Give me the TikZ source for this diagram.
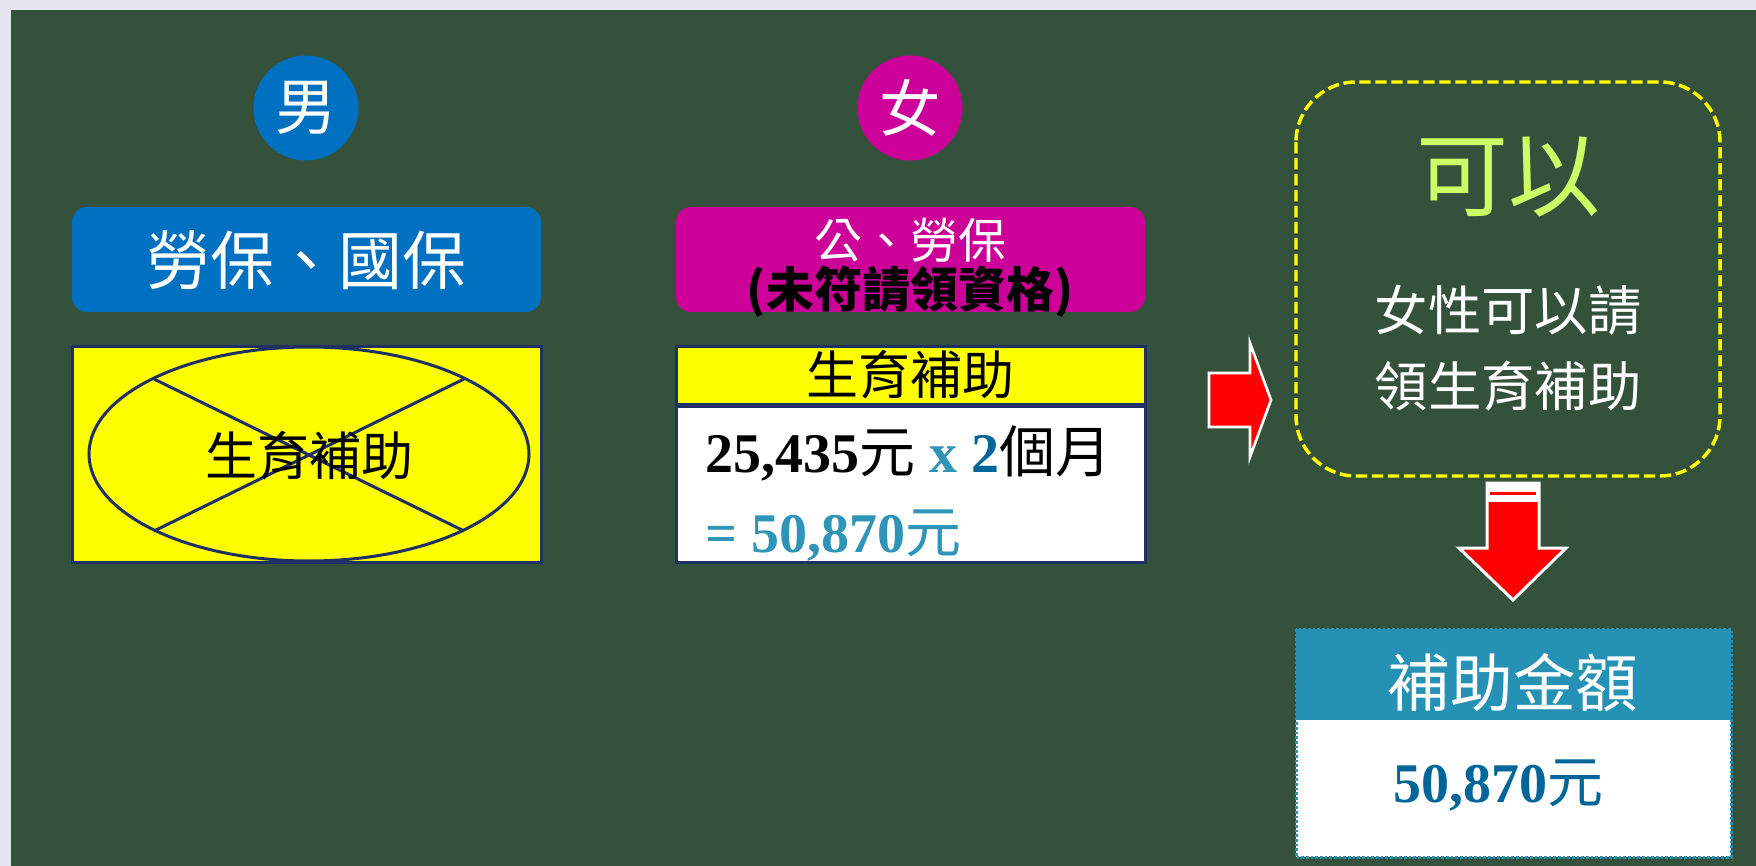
\documentclass[tikz,border=0pt]{standalone}
\usepackage{fontspec}
\setmainfont{Liberation Serif}
\newfontfamily\cjk{Noto Sans CJK TC}

\definecolor{boardgreen}{RGB}{52,82,59}
\definecolor{framelav}{RGB}{230,230,242}
\definecolor{maleblue}{RGB}{0,112,192}
\definecolor{femalepink}{RGB}{204,0,153}
\definecolor{boxnavy}{RGB}{31,48,100}
\definecolor{calcteal}{RGB}{46,149,184}
\definecolor{sumblue}{RGB}{0,102,153}
\definecolor{headteal}{RGB}{37,145,180}
\definecolor{okgreen}{RGB}{204,255,102}
\definecolor{signred}{RGB}{255,0,0}
\definecolor{aidyellow}{RGB}{255,255,0}

\tikzset{every picture/.style={line width=0.75pt}}
\tikzset{
  cjktxt/.style={inner sep=0.75pt, font=\cjk\fontsize{#1}{#1}\selectfont},
  navybox/.style={draw=boxnavy, line width=2.25pt},
  redarrow/.style={fill=signred, draw=white, line width=2pt},
}

\begin{document}
\begin{tikzpicture}[x=0.75pt,y=0.75pt,yscale=-1,xscale=1]
\useasboundingbox (0,0) rectangle (1756,866);

%Shape: Rectangle (frame and board)
\fill [framelav] (0,0) rectangle (1756,866);
\fill [boardgreen] (11,10) rectangle (1756,866);

%Shape: Circle
\fill [maleblue] (306,108) circle (52.5);
%Shape: Circle
\fill [femalepink] (910,108) circle (52.5);

%Rounded Rect
\fill [maleblue, rounded corners=11.25pt] (72,207) rectangle (541,312);
%Rounded Rect
\fill [femalepink, rounded corners=11.25pt] (676,207) rectangle (1145,312);

%Shape: Rectangle
\draw [navybox, fill=aidyellow] (72,346) rectangle (541,562);
%Shape: Ellipse
\draw [navybox] (309,454) ellipse (220 and 107);
%Straight Lines
\draw [navybox] (154,379) -- (464,531);
\draw [navybox] (154,531) -- (464,379);

%Shape: Rectangle
\draw [navybox, fill=aidyellow] (676,346) rectangle (1145,404);
%Shape: Rectangle
\draw [navybox, fill=white] (676,406) rectangle (1145,562);

%Right Arrow
\draw [redarrow] (1209,373) -- (1250,373) -- (1250,343) -- (1271,400) -- (1250,457) -- (1250,427) -- (1209,427) -- cycle;

%Rounded Rect
\draw [draw=aidyellow, line width=2.6pt, dash pattern=on 8.5pt off 3.5pt, rounded corners=45pt] (1296,82) rectangle (1720,476);

%Down Arrow
\draw [redarrow, line width=2.25pt] (1487,483) -- (1539,483) -- (1539,548) -- (1566,548) -- (1513,600) -- (1459,548) -- (1487,548) -- cycle;
\fill [white] (1487,483) rectangle (1539,502);
\fill [signred] (1490,492) rectangle (1536,495);

%Shape: Rectangle
\draw [draw=headteal, fill=white, line width=2.25pt, dash pattern=on 2pt off 1.5pt] (1296,629) rectangle (1731,857);
\fill [headteal] (1296,629) rectangle (1731,720);

% Text Node
\draw (306,108) node [cjktxt=46, text=white] (male) {男};
% Text Node
\draw (910,108) node [cjktxt=46, text=white] (female) {女};
% Text Node
\draw (306,260) node [cjktxt=48, text=white] (maleins) {勞保、國保};
% Text Node
\draw (910,240) node [cjktxt=36, text=white] (femaleins) {公、勞保};
% Text Node
\draw (910,292) node [cjktxt=36, text=black] (notqual) {\bfseries (未符請領資格)};
% Text Node
\draw (309,456) node [cjktxt=39] (maleaid) {生育補助};
% Text Node
\draw (910,375) node [cjktxt=39] (femaleaid) {生育補助};
% Text Node
\draw (704,472) node [anchor=base west, inner sep=0.75pt, font=\fontsize{42}{42}\selectfont] (calcline) {\bfseries 25,435{\cjk\mdseries 元} {\color{calcteal}x} {\color{sumblue}2}{\cjk\mdseries 個月}};
% Text Node
\draw (704,552) node [anchor=base west, inner sep=0.75pt, font=\fontsize{42}{42}\selectfont, text=calcteal] (calcsum) {\bfseries = 50,870{\cjk\mdseries 元}};
% Text Node
\draw (1508,177) node [cjktxt=69, text=okgreen] (canget) {可以};
% Text Node
\draw (1508,310) node [cjktxt=40, text=white] (canline1) {女性可以請};
% Text Node
\draw (1508,386) node [cjktxt=40, text=white] (canline2) {領生育補助};
% Text Node
\draw (1513,683) node [cjktxt=47, text=white] (amounthead) {補助金額};
% Text Node
\draw (1498,802) node [anchor=base, inner sep=0.75pt, font=\fontsize{42}{42}\selectfont, text=sumblue] (amount) {\bfseries 50,870{\cjk\mdseries 元}};

\end{tikzpicture}
\end{document}
